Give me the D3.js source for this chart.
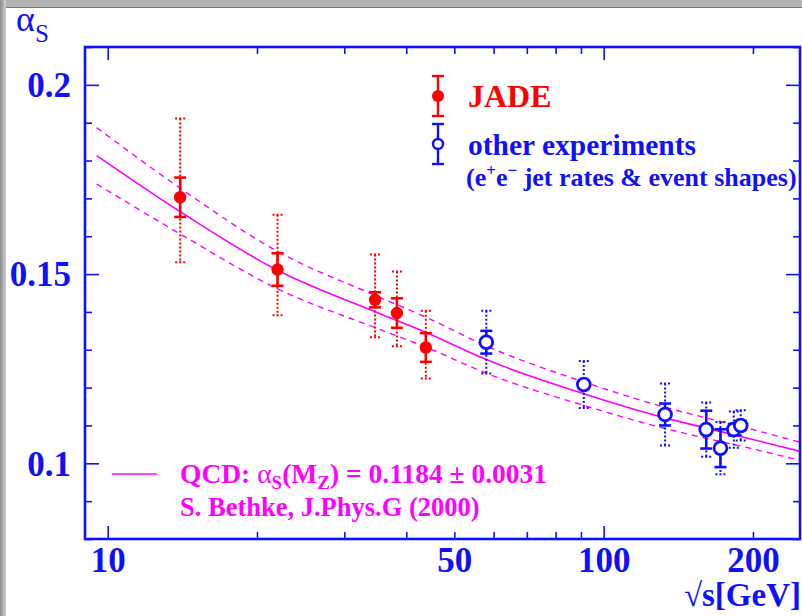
<!DOCTYPE html>
<html>
<head>
<meta charset="utf-8">
<script src="https://cdn.jsdelivr.net/npm/d3@7"></script>
<style>
  html, body { margin: 0; padding: 0; background: #fff; }
  svg { display: block; }
  text { font-family: "Liberation Serif", "DejaVu Serif", serif; }
</style>
</head>
<body>
<svg id="chart" width="802" height="616"></svg>
<script>
// JADE points (sqrt(s) in GeV, alpha_s, stat error, total error up/down)
const jadeE = [14, 22, 34.6, 38.3, 43.8];
const jadeA = [0.1703, 0.1512, 0.1432, 0.1397, 0.1306];
const jadeStat = [0.0052, 0.0043, 0.0020, 0.0039, 0.0038];
const jadeUp = [0.0208, 0.0145, 0.0120, 0.0110, 0.0097];
const jadeDown = [0.0172, 0.0121, 0.0099, 0.0088, 0.0082];

// other experiments
const otherE = [58, 91.2, 133, 161, 172, 183, 189];
const otherA = [0.1320, 0.1208, 0.1129, 0.1089, 0.1040, 0.1089, 0.1100];
const otherStat = [0.0030, 0.0010, 0.0029, 0.0050, 0.0050, 0.0015, 0.0012];
const otherTot = [0.0083, 0.0062, 0.0082, 0.0072, 0.0069, 0.0048, 0.0040];

// QCD band
const qcdE = [9.5, 14, 22, 35, 44, 58, 91.2, 133, 161, 200, 250];
const qcdMid = [0.1813, 0.1665, 0.1510, 0.1398, 0.1345, 0.1274, 0.1184, 0.1120, 0.1093, 0.1063, 0.1031];
const qcdHi = [0.1887, 0.1727, 0.1560, 0.1441, 0.1385, 0.1310, 0.1215, 0.1148, 0.1120, 0.1089, 0.1055];
const qcdLo = [0.1738, 0.1606, 0.1461, 0.1356, 0.1306, 0.1238, 0.1153, 0.1092, 0.1066, 0.1038, 0.1007];

// ticks
const xMajor = [10, 100];
const xMinor = [20, 30, 40, 50, 60, 70, 80, 90, 200];
const xLabels = [10, 50, 100, 200];
const yMajor = [0.1, 0.15, 0.2];
const yMinor = [0.08, 0.09, 0.11, 0.12, 0.13, 0.14, 0.16, 0.17, 0.18, 0.19, 0.21];

const blue = "#1010ff", red = "#ff0000", mag = "#ff00ff";

let svg = d3.select("#chart");

// grey frame of the slide
let defs = svg.append("defs");
let gl = defs.append("linearGradient").attr("id", "gl");
gl.append("stop").attr("offset", "0").attr("stop-color", "#8a8a8a");
gl.append("stop").attr("offset", "1").attr("stop-color", "#d0d0d0");
svg.append("rect").attr("x", 0).attr("y", 0).attr("width", 802).attr("height", 8).attr("fill", "#b4b4b4");
svg.append("rect").attr("x", 0).attr("y", 0).attr("width", 6).attr("height", 616).attr("fill", "url(#gl)");
svg.append("line").attr("x1", 6).attr("x2", 802).attr("y1", 7.5).attr("y2", 7.5).attr("stroke", "#777").attr("stroke-width", 1);

let x = d3.scaleLog().domain([9, 250]).range([85, 801]);
let y = d3.scaleLinear().domain([0.08, 0.21]).range([539, 47]);
const x0 = 85, x1 = 800, y0 = 539, y1 = 47;

// QCD curves
let band = qcdE.map((e, i) => ({ e, mid: qcdMid[i], hi: qcdHi[i], lo: qcdLo[i] }));
let clip = defs.append("clipPath").attr("id", "plot");
clip.append("rect").attr("x", x0).attr("y", y1).attr("width", x1 - x0).attr("height", y0 - y1);
let curves = svg.append("g").attr("clip-path", "url(#plot)");
["hi", "lo", "mid"].forEach(k => {
  curves.append("path")
    .datum(band)
    .attr("fill", "none")
    .attr("stroke", mag)
    .attr("stroke-width", k === "mid" ? 1.6 : 1.4)
    .attr("stroke-dasharray", k === "mid" ? null : "6,5")
    .attr("d", d3.line().curve(d3.curveMonotoneX).x(d => x(d.e)).y(d => y(d[k])));
});

// axes
function styleAxis(g) {
  g.selectAll("line").attr("stroke", blue).attr("stroke-width", 1.6);
  g.select(".domain").remove();
}
svg.append("g").attr("transform", `translate(0,${y0})`)
  .call(d3.axisBottom(x).tickValues(xMajor).tickSize(-13).tickFormat("")).call(styleAxis);
svg.append("g").attr("transform", `translate(0,${y0})`)
  .call(d3.axisBottom(x).tickValues(xMinor).tickSize(-7).tickFormat("")).call(styleAxis);
svg.append("g").attr("transform", `translate(0,${y1})`)
  .call(d3.axisTop(x).tickValues(xMajor).tickSize(-13).tickFormat("")).call(styleAxis);
svg.append("g").attr("transform", `translate(0,${y1})`)
  .call(d3.axisTop(x).tickValues(xMinor).tickSize(-7).tickFormat("")).call(styleAxis);
svg.append("g").attr("transform", `translate(${x0},0)`)
  .call(d3.axisLeft(y).tickValues(yMajor).tickSize(-14).tickFormat("")).call(styleAxis);
svg.append("g").attr("transform", `translate(${x0},0)`)
  .call(d3.axisLeft(y).tickValues(yMinor).tickSize(-7).tickFormat("")).call(styleAxis);
svg.append("g").attr("transform", `translate(${x1},0)`)
  .call(d3.axisRight(y).tickValues(yMajor).tickSize(-14).tickFormat("")).call(styleAxis);
svg.append("g").attr("transform", `translate(${x1},0)`)
  .call(d3.axisRight(y).tickValues(yMinor).tickSize(-7).tickFormat("")).call(styleAxis);

// tick labels
let xl = svg.append("g").attr("transform", `translate(0,${y0})`)
  .call(d3.axisBottom(x).tickValues(xLabels).tickSize(0).tickPadding(8).tickFormat(d3.format("d")));
xl.select(".domain").remove();
xl.selectAll("text").attr("fill", blue).attr("font-size", 35).attr("font-weight", "bold")
  .attr("font-family", "Liberation Serif");
let yl = svg.append("g").attr("transform", `translate(${x0},0)`)
  .call(d3.axisLeft(y).tickValues(yMajor).tickSize(0).tickPadding(14).tickFormat(d => String(d)));
yl.select(".domain").remove();
yl.selectAll("text").attr("fill", blue).attr("font-size", 35).attr("font-weight", "bold")
  .attr("font-family", "Liberation Serif").attr("dy", "0.34em");

// frame
svg.append("rect").attr("x", x0).attr("y", y1).attr("width", x1 - x0).attr("height", y0 - y1)
  .attr("fill", "none").attr("stroke", blue).attr("stroke-width", 2.6);

// error bars
function errBars(g, e, a, up, down, inUp, inDown, color) {
  // total (dotted)
  e.forEach((v, i) => {
    let cx = x(v);
    let dot = { stroke: color, "stroke-width": 2, "stroke-dasharray": "2,2" };
    let l = g.append("line").attr("x1", cx).attr("x2", cx)
      .attr("y1", y(a[i] + up[i])).attr("y2", y(a[i] - down[i]));
    Object.entries(dot).forEach(([k, val]) => l.attr(k, val));
    [a[i] + up[i], a[i] - down[i]].forEach(yy => {
      let c = g.append("line").attr("x1", cx - 5).attr("x2", cx + 5).attr("y1", y(yy)).attr("y2", y(yy));
      Object.entries(dot).forEach(([k, val]) => c.attr(k, val));
    });
  });
  // stat (solid)
  e.forEach((v, i) => {
    let cx = x(v);
    g.append("line").attr("x1", cx).attr("x2", cx)
      .attr("y1", y(a[i] + inUp[i])).attr("y2", y(a[i] - inDown[i]))
      .attr("stroke", color).attr("stroke-width", 2.6);
    [a[i] + inUp[i], a[i] - inDown[i]].forEach(yy => {
      g.append("line").attr("x1", cx - 6).attr("x2", cx + 6).attr("y1", y(yy)).attr("y2", y(yy))
        .attr("stroke", color).attr("stroke-width", 2.6);
    });
  });
}

let jade = svg.append("g");
errBars(jade, jadeE, jadeA, jadeUp, jadeDown, jadeStat, jadeStat, red);
jade.selectAll("circle").data(jadeE).enter().append("circle")
  .attr("cx", d => x(d)).attr("cy", (d, i) => y(jadeA[i])).attr("r", 6.2).attr("fill", red);

let other = svg.append("g");
errBars(other, otherE, otherA, otherTot, otherTot, otherStat, otherStat, blue);
other.selectAll("circle").data(otherE).enter().append("circle")
  .attr("cx", d => x(d)).attr("cy", (d, i) => y(otherA[i])).attr("r", 6.4)
  .attr("fill", "#fff").attr("stroke", blue).attr("stroke-width", 2.8);

// legend
function legendMark(cx, cy, color, filled) {
  svg.append("line").attr("x1", cx).attr("x2", cx).attr("y1", cy - 20).attr("y2", cy + 20)
    .attr("stroke", color).attr("stroke-width", 2.4);
  [cy - 20, cy + 20].forEach(yy => svg.append("line").attr("x1", cx - 6).attr("x2", cx + 6)
    .attr("y1", yy).attr("y2", yy).attr("stroke", color).attr("stroke-width", 2.4));
  svg.append("circle").attr("cx", cx).attr("cy", cy).attr("r", filled ? 6 : 5)
    .attr("fill", filled ? color : "#fff").attr("stroke", filled ? "none" : color).attr("stroke-width", 2.4);
}
legendMark(438, 96, red, true);
legendMark(438, 144, blue, false);
svg.append("text").attr("x", 468).attr("y", 107).attr("fill", red).attr("font-size", 32)
  .attr("font-weight", "bold").text("JADE");
svg.append("text").attr("x", 468).attr("y", 155).attr("fill", blue).attr("font-size", 29.5)
  .attr("font-weight", "bold").text("other experiments");
let t3 = svg.append("text").attr("x", 466).attr("y", 186).attr("fill", blue).attr("font-size", 26)
  .attr("font-weight", "bold");
t3.append("tspan").text("(e");
t3.append("tspan").attr("dy", -10).attr("font-size", 17).text("+");
t3.append("tspan").attr("dy", 10).text("e");
t3.append("tspan").attr("dy", -10).attr("font-size", 17).text("\u2212");
t3.append("tspan").attr("dy", 10).text(" jet rates & event shapes)");

// QCD legend
svg.append("line").attr("x1", 112).attr("x2", 157).attr("y1", 474).attr("y2", 474)
  .attr("stroke", mag).attr("stroke-width", 1.6);
let q = svg.append("text").attr("x", 180).attr("y", 483).attr("fill", mag).attr("font-size", 27.5)
  .attr("font-weight", "bold");
q.append("tspan").text("QCD: ");
q.append("tspan").attr("font-weight", "normal").text("\u03b1");
q.append("tspan").attr("dy", 6).attr("font-size", 19).text("S");
q.append("tspan").attr("dy", -6).text("(M");
q.append("tspan").attr("dy", 6).attr("font-size", 19).text("Z");
q.append("tspan").attr("dy", -6).text(") = 0.1184 \u00b1 0.0031");
svg.append("text").attr("x", 180).attr("y", 516).attr("fill", mag).attr("font-size", 26.5)
  .attr("font-weight", "bold").text("S. Bethke, J.Phys.G (2000)");

// axis titles
let at = svg.append("text").attr("x", 16).attr("y", 31).attr("fill", blue).attr("font-size", 36);
at.append("tspan").text("\u03b1");
at.append("tspan").attr("dy", 11).attr("font-size", 25).text("S");
svg.append("text").attr("x", 801).attr("y", 606).attr("text-anchor", "end").attr("fill", blue)
  .attr("font-size", 33).attr("font-weight", "bold").text("\u221as[GeV]");
</script>
</body>
</html>
